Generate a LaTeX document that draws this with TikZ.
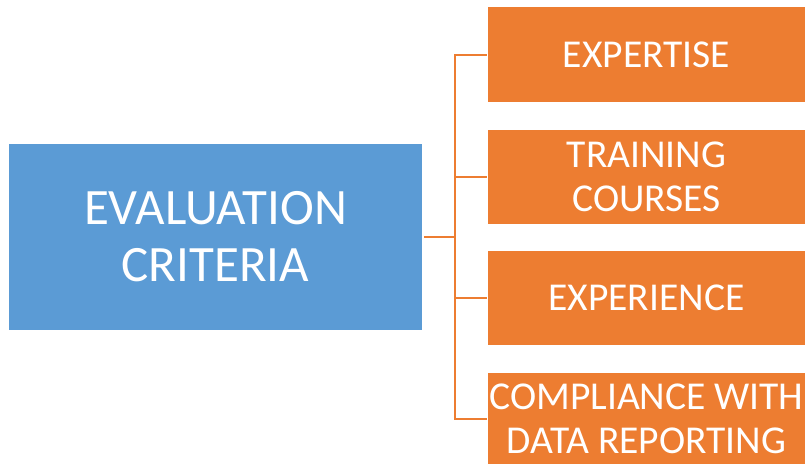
\documentclass[tikz,border=0pt]{standalone}
\usepackage{fontspec}
\setmainfont{Carlito}
\usepackage{tikz}
\usetikzlibrary{calc}
\usetikzlibrary{positioning}
\definecolor{critblue}{HTML}{5B9BD5}
\definecolor{critorange}{HTML}{ED7D31}

\begin{document}
\begin{tikzpicture}[x=1pt,y=-1pt,line cap=rect,
    mainbox/.style={fill=critblue,text=white,minimum width=413pt,minimum height=186pt,inner sep=0pt,align=center,font=\fontsize{51}{57}\selectfont},
    subbox/.style={fill=critorange,text=white,minimum width=317pt,inner sep=0pt,align=center,font=\fontsize{39.5}{44}\selectfont},
    link/.style={draw=critorange,line width=2pt}]
        \useasboundingbox (0,0) rectangle (805,464);
        \node[mainbox] (criteria) at (215.5,237) {EVALUATION\\CRITERIA};
        % 
        \node[subbox,minimum height=95pt] (expertise) at (646.5,54.5) {EXPERTISE};
        \node[subbox,minimum height=94pt] (training) at (646.5,177) {TRAINING\\COURSES};
        \node[subbox,minimum height=94pt] (experience) at (646.5,298) {EXPERIENCE};
        \node[subbox,minimum height=91pt] (compliance) at (646.5,418.5) {COMPLIANCE WITH\\DATA REPORTING};
        % 
        \coordinate (trunk) at (455,237);
        \draw[link,shorten <=3pt] (criteria.east) -- (trunk);
        \draw[link] (trunk |- expertise.west) -- (trunk |- compliance.west);
        \foreach \sub in {expertise,training,experience,compliance}
          \draw[link,shorten >=2pt] (trunk |- \sub.west) -- (\sub.west);
      \end{tikzpicture}
\end{document}
